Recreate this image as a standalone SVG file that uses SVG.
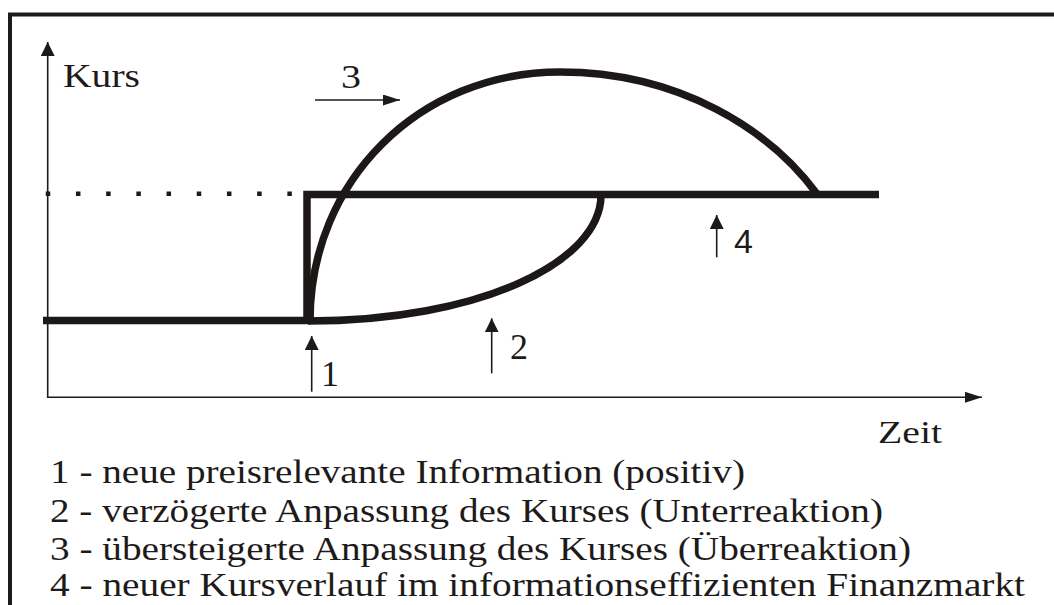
<svg xmlns="http://www.w3.org/2000/svg" width="1054" height="605" viewBox="0 0 1054 605">
  <defs>
    <style>
      .thin { stroke: #1e1a1a; stroke-width: 1.6; fill: none; }
      .thick { stroke: #1c1818; stroke-width: 7.5; fill: none; }
      text { fill: #1e1a1a; }
    </style>
    <marker id="headSq" viewBox="0 0 14 14" refX="14" refY="7" markerWidth="14" markerHeight="14" markerUnits="userSpaceOnUse" orient="auto">
      <path d="M0,0 L14,7 L0,14 Z" fill="#1e1a1a"/>
    </marker>
    <marker id="headLong" viewBox="0 0 17 11" refX="17" refY="5.5" markerWidth="17" markerHeight="11" markerUnits="userSpaceOnUse" orient="auto">
      <path d="M0,0 L17,5.5 L0,11 Z" fill="#1e1a1a"/>
    </marker>
  </defs>
  <rect width="1054" height="605" fill="#ffffff"/>

  <g id="frame">
    <path d="M10,612 V14.5 H1060" fill="none" stroke="#1e1a1a" stroke-width="4"/>
  </g>

  <g id="axes">
    <line class="thin" x1="47.7" y1="397.3" x2="47.7" y2="42" marker-end="url(#headSq)"/>
    <line class="thin" x1="46.9" y1="397.3" x2="982" y2="397.3" marker-end="url(#headLong)"/>
    <text font-family="Liberation Serif, serif" x="63" y="87" font-size="33" textLength="77" lengthAdjust="spacingAndGlyphs">Kurs</text>
    <text font-family="Liberation Serif, serif" x="878" y="443" font-size="31" textLength="64" lengthAdjust="spacingAndGlyphs">Zeit</text>
  </g>

  <g id="old-level">
    <line x1="45.75" y1="193.8" x2="292" y2="193.8" stroke="#1e1a1a" stroke-width="4.5" stroke-dasharray="4.5 25.7"/>
  </g>

  <g id="curve-4-efficient">
    <path class="thick" d="M43,320.5 H307 V194.5 H879" stroke-linejoin="miter"/>
  </g>

  <g id="curve-2-underreaction">
    <path class="thick" d="M308,321 C480,321 601,262 601,195"/>
  </g>

  <g id="curve-3-overreaction">
    <path class="thick" d="M310,321 C310,180 420,72 560,72 C680,72 770,130 817,194"/>
  </g>

  <g id="connectors">
    <line class="thin" x1="311.7" y1="391.7" x2="311.7" y2="336" marker-end="url(#headSq)"/>
    <line class="thin" x1="491.7" y1="373.3" x2="491.7" y2="318.3" marker-end="url(#headSq)"/>
    <line class="thin" x1="716.7" y1="257.3" x2="716.7" y2="215" marker-end="url(#headSq)"/>
    <line class="thin" x1="315" y1="100" x2="400" y2="100" marker-end="url(#headLong)"/>
  </g>

  <g id="label-1"><text font-family="Liberation Serif, serif" x="321" y="386" font-size="36">1</text></g>
  <g id="label-2"><text font-family="Liberation Serif, serif" x="510" y="359" font-size="36">2</text></g>
  <g id="label-3"><text font-family="Liberation Serif, serif" x="341" y="88" font-size="34" textLength="20" lengthAdjust="spacingAndGlyphs">3</text></g>
  <g id="label-4"><text font-family="Liberation Sans, sans-serif" x="734" y="252.7" font-size="34">4</text></g>

  <g id="legend" font-family="Liberation Serif, serif" font-size="34">
    <text x="50" y="483" textLength="695" lengthAdjust="spacingAndGlyphs">1 - neue preisrelevante Information (positiv)</text>
    <text x="50" y="522" textLength="833" lengthAdjust="spacingAndGlyphs">2 - verzögerte Anpassung des Kurses (Unterreaktion)</text>
    <text x="50" y="560" textLength="861" lengthAdjust="spacingAndGlyphs">3 - übersteigerte Anpassung des Kurses (Überreaktion)</text>
    <text x="50" y="596" textLength="975" lengthAdjust="spacingAndGlyphs">4 - neuer Kursverlauf im informationseffizienten Finanzmarkt</text>
  </g>
</svg>
